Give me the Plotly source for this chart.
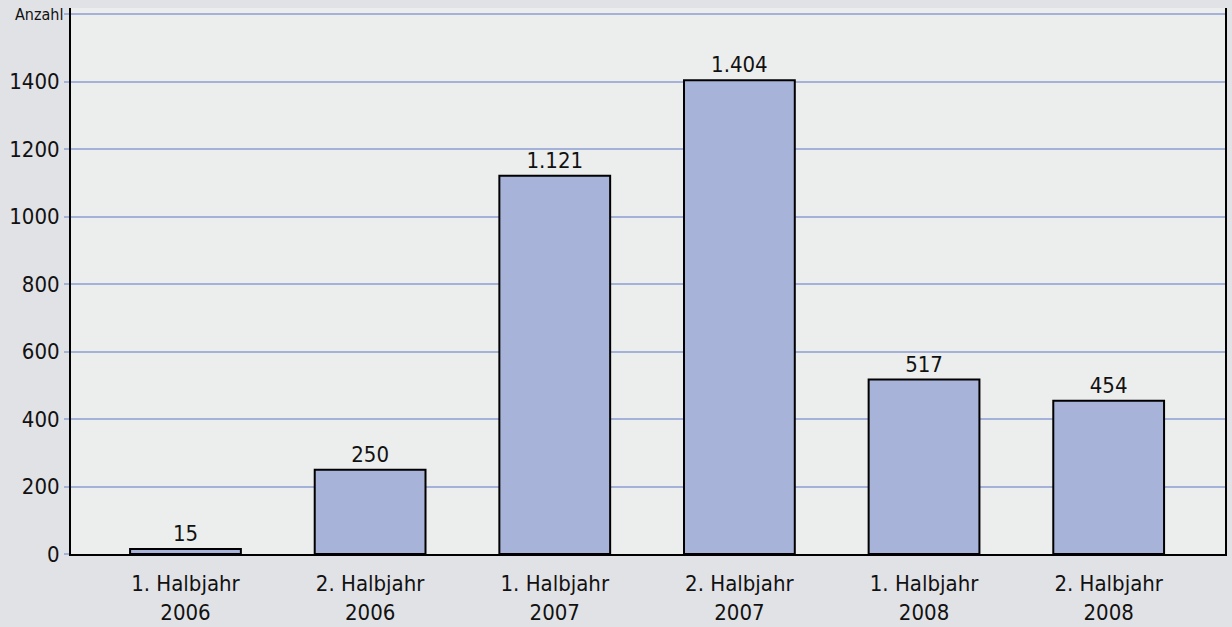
import plotly.graph_objects as go

categories = ["1. Halbjahr<br>2006", "2. Halbjahr<br>2006", "1. Halbjahr<br>2007",
              "2. Halbjahr<br>2007", "1. Halbjahr<br>2008", "2. Halbjahr<br>2008"]
values = [15, 250, 1121, 1404, 517, 454]
y_tickvals = [0, 200, 400, 600, 800, 1000, 1200, 1400, 1600]
y_ticktext = ["0", "200", "400", "600", "800", "1000", "1200", "1400", ""]
y_unit_label = "Anzahl"

labels = [f"{v:,}".replace(",", ".") for v in values]
FONT = "DejaVu Sans Condensed, Liberation Sans Narrow, sans-serif"

fig = go.Figure()
fig.add_trace(go.Bar(
    x=list(range(len(categories))), y=values,
    text=labels, textposition="outside", cliponaxis=False,
    textfont=dict(family=FONT, size=22, color="#111111"),
    marker=dict(color="#A7B3D9", line=dict(color="#000000", width=2)),
    width=0.6, hoverinfo="skip",
))

fig.add_annotation(x=0, xref="paper", y=1600, yref="y", text=y_unit_label,
                   showarrow=False, xanchor="right", yanchor="middle", xshift=-6,
                   font=dict(family=FONT, size=16, color="#111111"))

fig.update_layout(
    width=1232, height=627,
    margin=dict(l=71, r=7, t=8, b=73),
    paper_bgcolor="#E1E2E6", plot_bgcolor="#ECEDED",
    showlegend=False,
    font=dict(family=FONT, size=22, color="#111111"),
    xaxis=dict(range=[-0.62, 5.63], tickvals=list(range(len(categories))),
               ticktext=categories, showgrid=False, showline=True,
               linecolor="#000000", linewidth=2, ticks="", zeroline=False,
               ticklabelstandoff=9, automargin=False,
               tickfont=dict(family=FONT, size=22)),
    yaxis=dict(range=[0, 1618], tickvals=y_tickvals, ticktext=y_ticktext,
               showgrid=True, gridcolor="#A4B2D9", gridwidth=2,
               showline=True, mirror=True, linecolor="#000000", linewidth=2,
               ticks="outside", ticklen=5, tickwidth=2, tickcolor="#A4B2D9",
               zeroline=False, automargin=False,
               tickfont=dict(family=FONT, size=22)),
)

fig.write_html("out.html", config={"displayModeBar": False},
               post_script="document.body.style.margin='0';document.body.style.overflow='hidden';")
